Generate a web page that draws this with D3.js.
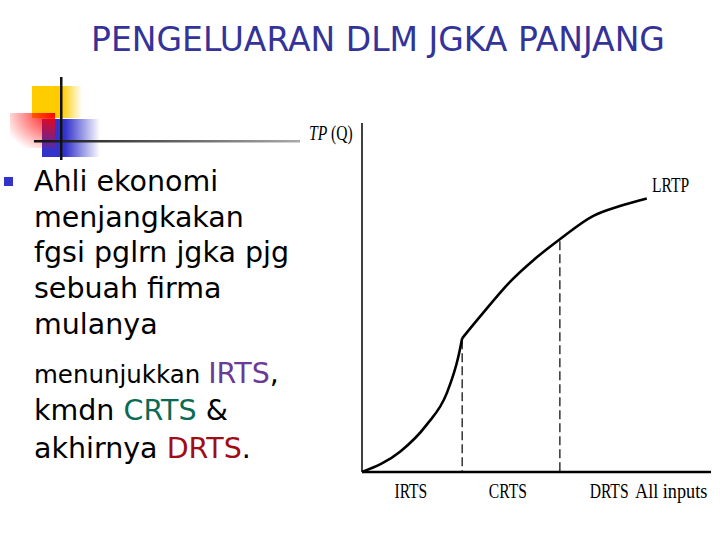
<!DOCTYPE html>
<html>
<head>
<meta charset="utf-8">
<script src="https://cdn.jsdelivr.net/npm/d3@7"></script>
<style>
  body { margin: 0; background: #fff; }
  svg { display: block; }
</style>
</head>
<body>
<svg id="slide" width="720" height="540"></svg>
<script>
// long run total product curve, inputs (0-100) vs output (0-100)
var irtsInputs = [0, 10.9, 18.5, 24.3, 27.6, 28.7]
var irtsOutput = [0, 5.8, 13.5, 22.6, 33.0, 38.3]
var restInputs = [28.7, 33.8, 42.4, 49.1, 56.7, 66.3, 73.9, 81.6]
var restOutput = [38.3, 44.5, 54.5, 60.7, 66.7, 73.4, 76.2, 78.4]
var boundaries = [28.7, 56.7]
var stageLabels = ['IRTS', 'CRTS', 'DRTS']
var stageCentres = [14.0, 41.8, 70.8]

var bulletLines = [
    [{t: 'Ahli ekonomi'}],
    [{t: 'menjangkakan'}],
    [{t: 'fgsi pglrn jgka pjg'}],
    [{t: 'sebuah firma'}],
    [{t: 'mulanya'}],
    [{t: 'menunjukkan ', small: true}, {t: 'IRTS', c: '#6b3a96'}, {t: ','}],
    [{t: 'kmdn '}, {t: 'CRTS', c: '#0a6b55'}, {t: ' &'}],
    [{t: 'akhirnya '}, {t: 'DRTS', c: '#a00d14'}, {t: '.'}]
]

var svg = d3.select('#slide')
var defs = svg.append('defs')

function hGrad(id, stops) {
    var g = defs.append('linearGradient').attr('id', id)
    stops.forEach(function(s) {
        g.append('stop').attr('offset', s[0]).attr('stop-color', s[1]).attr('stop-opacity', s[2])
    })
}
hGrad('gYellow', [['0%', '#ffcc00', 1], ['60%', '#ffcc00', 1], ['100%', '#ffcc00', 0]])
hGrad('gBlue', [['0%', '#3333cc', 1], ['40%', '#3333cc', 1], ['100%', '#3333cc', 0]])
hGrad('gLine', [['0%', '#111', 1], ['100%', '#aaa', 1]])
var rg = defs.append('radialGradient').attr('id', 'gRed')
    .attr('cx', '100%').attr('cy', '0%').attr('r', '120%')
rg.append('stop').attr('offset', '0%').attr('stop-color', '#ff0000').attr('stop-opacity', 1)
rg.append('stop').attr('offset', '100%').attr('stop-color', '#ff0000').attr('stop-opacity', 0)

// decoration squares
svg.append('rect').attr('x', 32).attr('y', 86).attr('width', 50).attr('height', 32).attr('fill', 'url(#gYellow)')
svg.append('rect').attr('x', 42).attr('y', 119).attr('width', 58).attr('height', 38).attr('fill', 'url(#gBlue)')
svg.append('rect').attr('x', 10).attr('y', 113).attr('width', 45).attr('height', 35).attr('fill', 'url(#gRed)')
svg.append('rect').attr('x', 34).attr('y', 140).attr('width', 266).attr('height', 2.5).attr('fill', 'url(#gLine)')
svg.append('rect').attr('x', 60).attr('y', 77).attr('width', 2.5).attr('height', 83).attr('fill', '#111')

// title
svg.append('text')
    .attr('x', 378).attr('y', 51)
    .attr('text-anchor', 'middle')
    .attr('font-family', 'DejaVu Sans, sans-serif')
    .attr('font-size', 33)
    .attr('fill', '#333399')
    .text('PENGELUARAN DLM JGKA PANJANG')

// bullet
svg.append('rect').attr('x', 4).attr('y', 177).attr('width', 9).attr('height', 9).attr('fill', '#3333cc')
var baselines = [191, 227, 262, 298, 334, 383, 420, 458]
bulletLines.forEach(function(line, i) {
    var t = svg.append('text')
        .attr('x', 34).attr('y', baselines[i])
        .attr('font-family', 'DejaVu Sans, sans-serif')
        .attr('font-size', 28.5)
        .attr('fill', '#000')
    line.forEach(function(p) {
        var s = t.append('tspan').text(p.t)
        if (p.c) s.attr('fill', p.c)
        if (p.small) s.attr('font-size', 24.5)
    })
})

// chart
var x = d3.scaleLinear().domain([0, 100]).range([362, 711])
var y = d3.scaleLinear().domain([0, 100]).range([472, 123])

svg.append('line').attr('x1', x(0)).attr('x2', x(0)).attr('y1', y(100)).attr('y2', y(0))
    .attr('stroke', '#000').attr('stroke-width', 1.5)
svg.append('line').attr('x1', x(0)).attr('x2', x(100)).attr('y1', y(0)).attr('y2', y(0))
    .attr('stroke', '#000').attr('stroke-width', 2.5)

var line = d3.line()
    .x(function(d) { return x(d[0]) })
    .y(function(d) { return y(d[1]) })
    .curve(d3.curveMonotoneX)

var seg1 = d3.zip(irtsInputs, irtsOutput)
var seg2 = d3.zip(restInputs, restOutput)
svg.append('path').attr('d', line(seg1)).attr('fill', 'none').attr('stroke', '#000').attr('stroke-width', 2.6)
svg.append('path').attr('d', line(seg2)).attr('fill', 'none').attr('stroke', '#000').attr('stroke-width', 2.6)

boundaries.forEach(function(b) {
    var k = restInputs.indexOf(b)
    svg.append('line')
        .attr('x1', x(b)).attr('x2', x(b))
        .attr('y1', y(restOutput[k]) + 2).attr('y2', y(0))
        .attr('stroke', '#000').attr('stroke-width', 1.2)
        .attr('stroke-dasharray', '9,4')
})

function serif(tx, ty, str, anchor, sx) {
    return svg.append('text')
        .attr('transform', 'translate(' + tx + ',' + ty + ') scale(' + (sx || 0.78) + ',1)')
        .attr('text-anchor', anchor || 'start')
        .attr('font-family', 'Liberation Serif, serif')
        .attr('font-size', 20)
        .attr('fill', '#000')
        .text(str)
}

stageLabels.forEach(function(s, i) {
    serif(x(stageCentres[i]), 498, s, 'middle')
})
serif(635, 498, 'All inputs', 'start', 0.91)
serif(652, 192, 'LRTP')
var tp = serif(309, 140, '')
tp.append('tspan').attr('font-style', 'italic').text('TP')
tp.append('tspan').text(' (Q)')
</script>
</body>
</html>
